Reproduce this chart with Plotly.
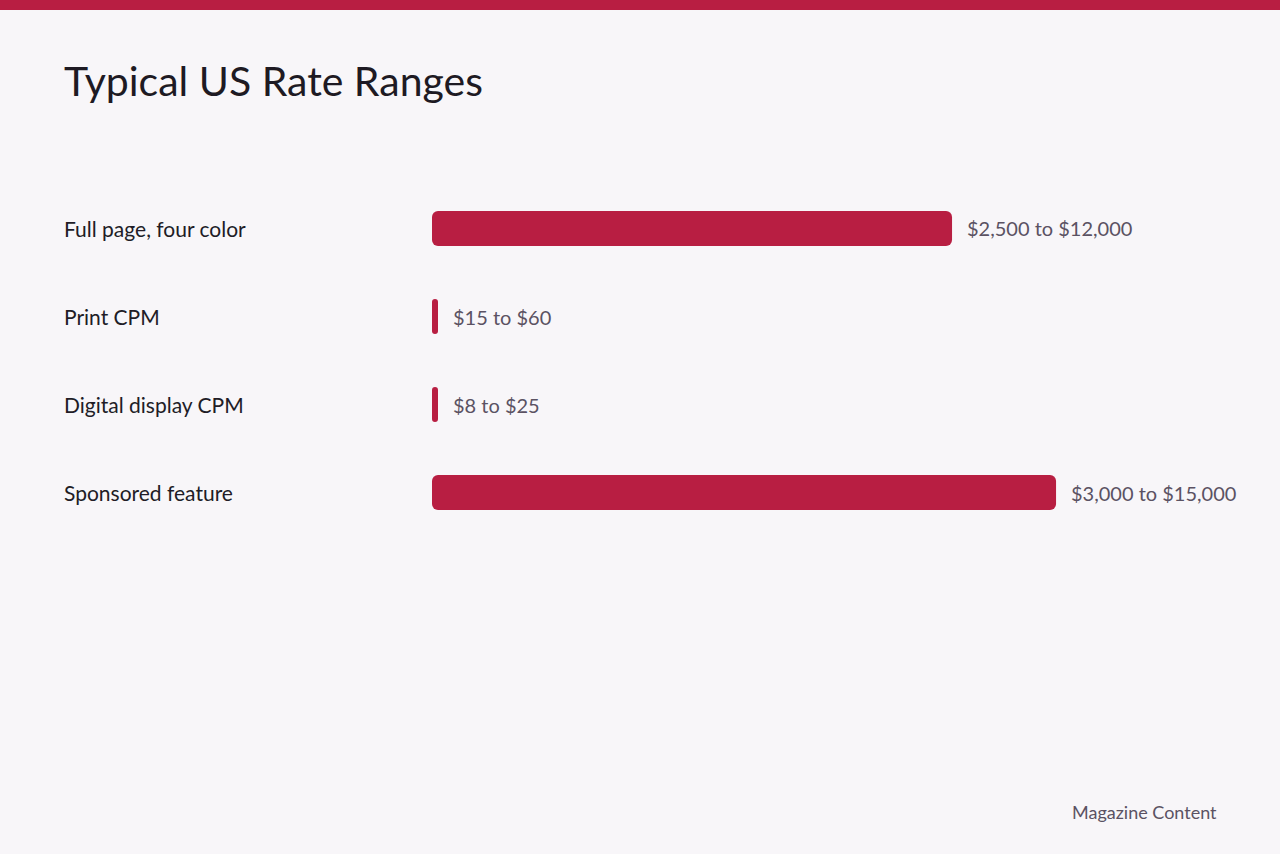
import plotly.graph_objects as go

# data
categories = ["Full page, four color", "Print CPM", "Digital display CPM", "Sponsored feature"]
low_values = [2500, 15, 8, 3000]
high_values = [12000, 60, 25, 15000]
# bar length as drawn in the reference (dollar scale estimate)
bar_extent = [12000, 60, 25, 14400]

W, H = 1280, 854
RED = "#B81E42"
BG = "#F8F6F9"
FONT = "Lato"

range_labels = [f"${lo:,} to ${hi:,}" for lo, hi in zip(low_values, high_values)]

# small values still get a visible pill, like the original
x_max = 18460
min_extent = x_max * 6 / 800
shown = [max(v, min_extent) for v in bar_extent]

fig = go.Figure()
# an explicit base makes plotly round both ends of the bar
fig.add_trace(go.Bar(
    y=categories,
    x=shown,
    base=[0] * len(shown),
    orientation="h",
    marker=dict(color=RED, cornerradius=6, line=dict(width=0)),
    hoverinfo="skip",
    width=35 / 88,
))

annotations = []
for cat, val, lab in zip(categories, shown, range_labels):
    # category label on the left
    annotations.append(dict(
        x=62 / W, xref="paper", y=cat, yref="y",
        text=cat, showarrow=False, xanchor="left", yanchor="middle",
        font=dict(family=FONT, size=21, color="#211C26"),
    ))
    # range label right of the bar
    annotations.append(dict(
        x=val, xref="x", y=cat, yref="y", xshift=13,
        text=lab, showarrow=False, xanchor="left", yanchor="middle",
        font=dict(family=FONT, size=20, color="#5B5263"),
    ))

annotations.append(dict(
    x=62 / W, xref="paper", y=1 - 80 / H, yref="paper",
    text="Typical US Rate Ranges", showarrow=False,
    xanchor="left", yanchor="middle",
    font=dict(family=FONT, size=41, color="#1E1A23"),
))
annotations.append(dict(
    x=1219 / W, xref="paper", y=1 - 812 / H, yref="paper",
    text="Magazine Content", showarrow=False,
    xanchor="right", yanchor="middle",
    font=dict(family=FONT, size=18, color="#5B5263"),
))

fig.update_layout(
    width=W, height=H,
    margin=dict(l=0, r=0, t=0, b=0),
    paper_bgcolor=BG, plot_bgcolor=BG,
    showlegend=False,
    annotations=annotations,
    shapes=[dict(type="rect", xref="paper", yref="paper",
                 x0=0, x1=1, y0=1 - 10 / H, y1=1,
                 fillcolor=RED, line=dict(width=0), layer="above")],
)
fig.update_xaxes(domain=[432 / W, 1232 / W], range=[0, x_max],
                 visible=False, fixedrange=True)
# half-pixel offset puts the bar edges on whole pixels
fig.update_yaxes(domain=[1 - 536.5 / H, 1 - 184.5 / H], range=[3.5, -0.5],
                 categoryorder="array", categoryarray=categories,
                 visible=False, fixedrange=True)

fig.write_html("out.html",
               config={"displayModeBar": False, "staticPlot": True},
               post_script="document.body.style.margin='0';"
                           "document.body.style.background='" + BG + "';")
